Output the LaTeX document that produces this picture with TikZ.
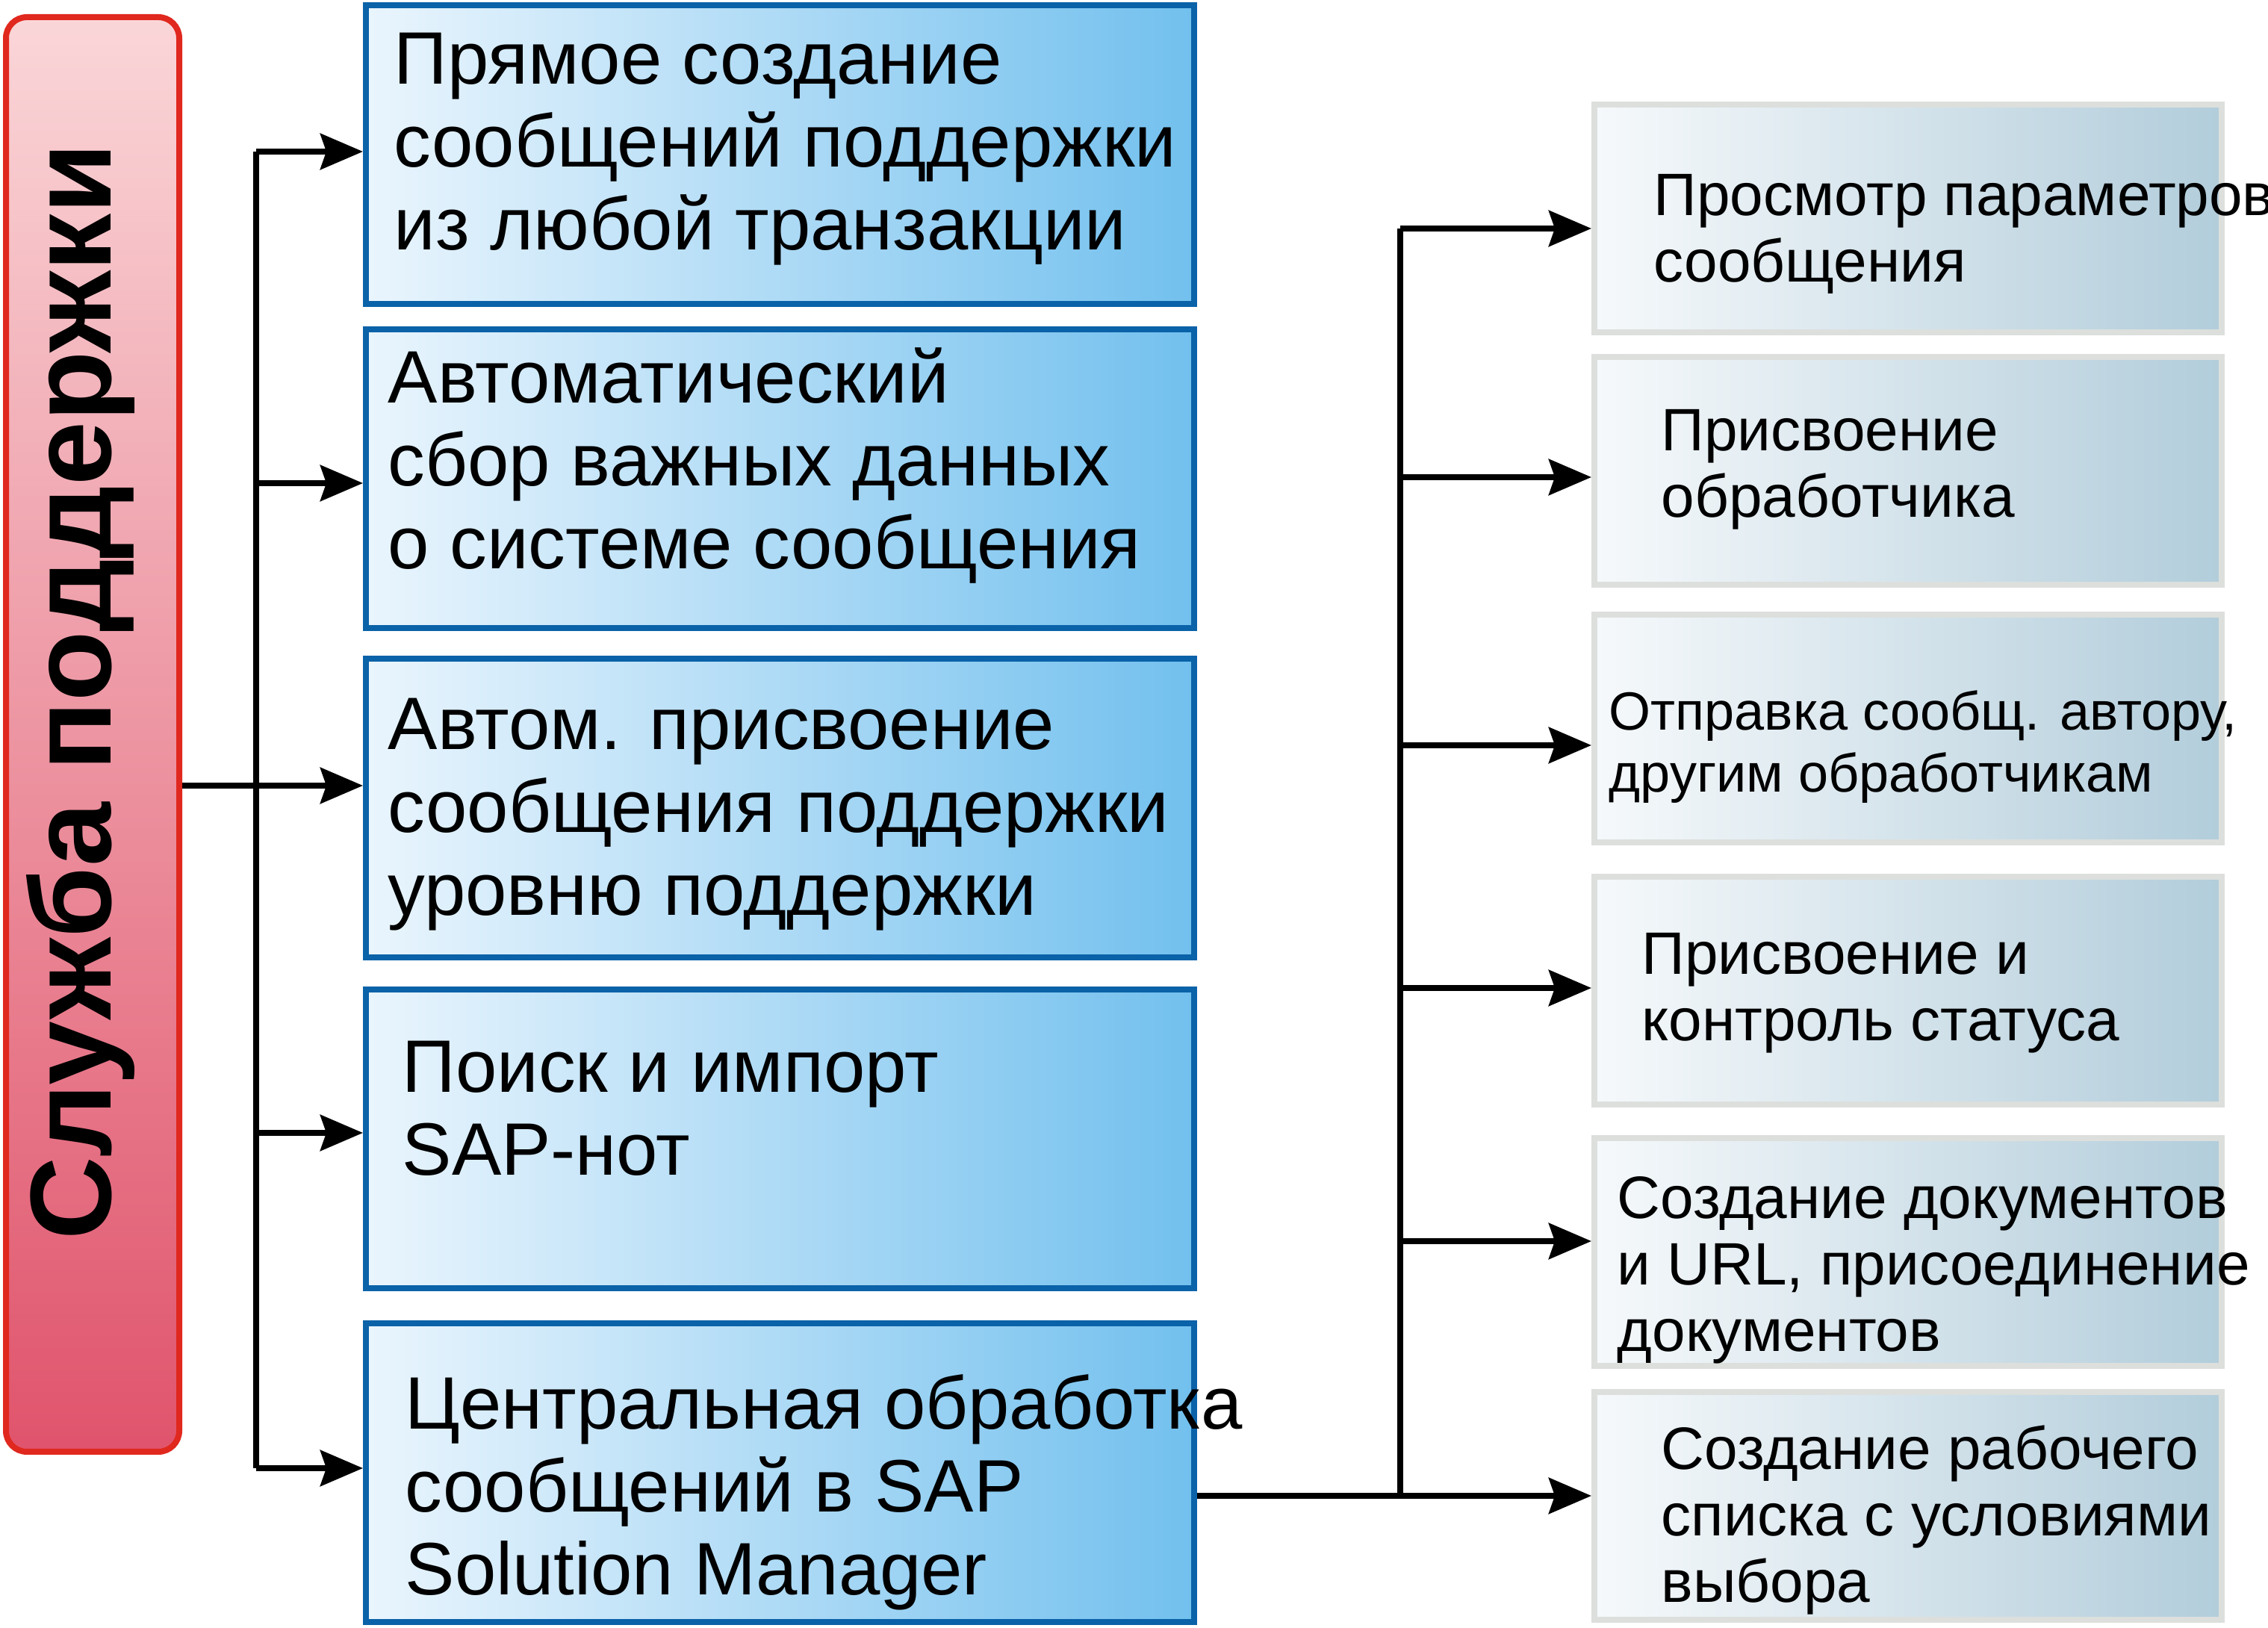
\documentclass[tikz,border=0pt]{standalone}
\usepackage{fontspec}
\setmainfont{Liberation Sans}
\usetikzlibrary{arrows.meta, calc, positioning}
\definecolor{RedD}  {HTML}{E0281E}
\definecolor{RedT}  {HTML}{FAD6D8}
\definecolor{RedB}  {HTML}{E0546C}
\definecolor{BlueD} {HTML}{0A62A8}
\definecolor{BlueL} {HTML}{EAF5FD}
\definecolor{BlueR} {HTML}{72C0EE}
\definecolor{GrayD} {HTML}{DCDFDC}
\definecolor{GrayL} {HTML}{F6F9FB}
\definecolor{GrayR} {HTML}{B2CDDB}
\tikzset{
  redbox/.style={
    rectangle, rounded corners=0.28cm,
    draw=RedD, top color=RedT, bottom color=RedB,
    line width=0.08cm, inner sep=0pt,
    minimum width=2.32cm, minimum height=19.21cm,
  },
  bluebox/.style={
    rectangle, draw=BlueD, left color=BlueL, right color=BlueR,
    line width=0.08cm, inner sep=0pt,
    minimum width=11.09cm, minimum height=4.0cm,
  },
  graybox/.style={
    rectangle, draw=GrayD, left color=GrayL, right color=GrayR,
    line width=0.08cm, inner sep=0pt,
    minimum width=8.40cm, minimum height=3.05cm,
  },
  btxt/.style={
    anchor=north west, inner sep=0pt, align=left,
    font=\fontsize{28.3pt}{31.6pt}\selectfont,
  },
  gtxt/.style args={#1/#2}{
    anchor=north west, inner sep=0pt, align=left,
    font=\fontsize{#1}{#2}\selectfont,
  },
  ln/.style={line width=0.08cm, color=black},
  arr/.style={
    -{Stealth[length=5.7mm,width=4.8mm,inset=0.8mm]},
    line width=0.08cm, color=black,
  },
}
\begin{document}
\begin{tikzpicture}[x=1cm,y=1cm]
  \useasboundingbox (0,0) rectangle (30.37,21.80);
  % left column
  \node[redbox] (red) at (1.24,11.965) {};
  \node[rotate=90, inner sep=0pt, font=\fontsize{43.9pt}{48pt}\selectfont\bfseries] (redtxt) at (1.08,12.54) {Служба поддержки};
  \node[bluebox] (b1) at (10.445,19.725) {};
  \node[bluebox] (b2) at (10.445,15.385) {};
  \node[bluebox] (b3) at (10.445,10.975) {};
  \node[bluebox] (b4) at (10.445,6.545) {};
  \node[bluebox] (b5) at (10.445,2.075) {};
  \node[btxt] (t1) at (5.27,21.37) {Прямое создание\\сообщений поддержки\\из любой транзакции};
  \node[btxt] (t2) at (5.19,17.15) {Автоматический\\сбор важных данных\\о системе сообщения};
  \node[btxt] (t3) at (5.19,12.46) {Автом. присвоение\\сообщения поддержки\\уровню поддержки};
  \node[btxt] (t4) at (5.38,7.87) {Поиск и импорт\\SAP-нот};
  \node[btxt] (t5) at (5.42,3.40) {Центральная обработка\\сообщений в SAP\\Solution Manager};
  % right column
  \node[graybox] (g1) at (25.55,18.875) {};
  \node[graybox] (g2) at (25.55,15.495) {};
  \node[graybox] (g3) at (25.55,12.04) {};
  \node[graybox] (g4) at (25.55,8.53) {};
  \node[graybox] (g5) at (25.55,5.03) {};
  \node[graybox] (g6) at (25.55,1.63) {};
  \node[gtxt=22.8pt/25.3pt] (u1) at (22.14,19.47) {Просмотр параметров\\сообщения};
  \node[gtxt=22.8pt/25.3pt] (u2) at (22.24,16.32) {Присвоение\\обработчика};
  \node[gtxt=20.5pt/23.6pt] (u3) at (21.54,12.56) {Отправка сообщ. автору,\\другим обработчикам};
  \node[gtxt=22.8pt/25.3pt] (u4) at (21.98,9.31) {Присвоение и\\контроль статуса};
  \node[gtxt=22.8pt/25.3pt] (u5) at (21.65,6.05) {Создание документов\\и URL, присоединение\\документов};
  \node[gtxt=22.8pt/25.3pt] (u6) at (22.24,2.72) {Создание рабочего\\списка с условиями\\выбора};
  % bus points
  \coordinate (L1) at (3.43,19.77);
  \coordinate (L2) at (3.43,15.33);
  \coordinate (L3) at (3.43,11.28);
  \coordinate (L4) at (3.43,6.63);
  \coordinate (L5) at (3.43,2.14);
  \coordinate (R1) at (18.75,18.74);
  \coordinate (R2) at (18.75,15.41);
  \coordinate (R3) at (18.75,11.82);
  \coordinate (R4) at (18.75,8.57);
  \coordinate (R5) at (18.75,5.18);
  \coordinate (R6) at (18.75,1.77);
  % connectors
  \draw[ln] (L1) -- (L5);
  \draw[ln] (red.east |- L3) -- (L3);
  \foreach \i in {1,...,5} \draw[arr] (L\i) -- (L\i -| b\i.west);
  \draw[ln] (b5.east |- R6) -- (R6) -- (R1);
  \foreach \i in {1,...,6} \draw[arr] (R\i) -- (R\i -| g\i.west);
\end{tikzpicture}
\end{document}
